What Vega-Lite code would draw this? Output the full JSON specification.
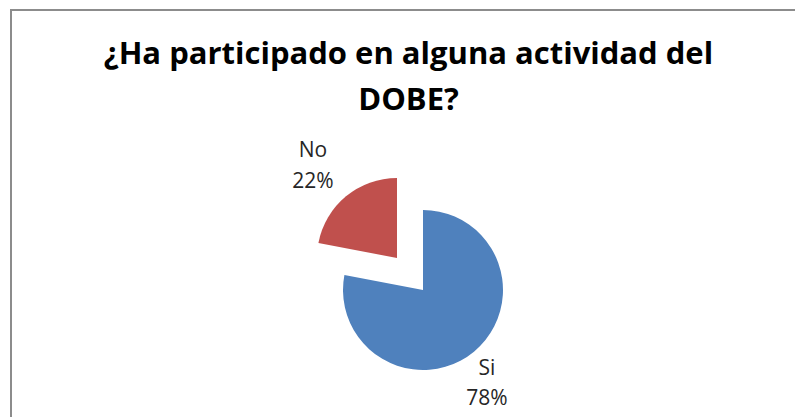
{
  "$schema": "https://vega.github.io/schema/vega-lite/v6.json",
  "width": 795,
  "height": 417,
  "autosize": {"type": "fit", "contains": "padding"},
  "padding": {"left": 11, "top": 10, "right": -40, "bottom": -153},
  "background": "white",
  "view": {"stroke": "#8c8c8c", "strokeWidth": 2},
  "title": {
    "text": ["¿Ha participado en alguna actividad del", "DOBE?"],
    "font": "Open Sans",
    "fontSize": 31,
    "fontWeight": "bold",
    "color": "#000000",
    "lineHeight": 46,
    "anchor": "middle",
    "frame": "group",
    "orient": "top",
    "baseline": "alphabetic",
    "offset": -131,
    "dx": -14.5
  },
  "data": {
    "values": [
      {"respuesta": "Si", "porcentaje": 0.78},
      {"respuesta": "No", "porcentaje": 0.22}
    ]
  },
  "encoding": {
    "theta": {"field": "porcentaje", "type": "quantitative", "stack": true},
    "order": {"field": "porcentaje", "type": "quantitative", "sort": "descending"},
    "color": {
      "field": "respuesta",
      "type": "nominal",
      "scale": {"domain": ["Si", "No"], "range": ["#4F81BD", "#C0504D"]},
      "legend": null
    }
  },
  "layer": [
    {
      "mark": {"type": "arc", "radius": 80},
      "encoding": {
        "opacity": {"condition": {"test": "datum.respuesta === 'Si'", "value": 1}, "value": 0}
      }
    },
    {
      "mark": {"type": "arc", "radius": 80, "xOffset": -26, "yOffset": -32},
      "encoding": {
        "opacity": {"condition": {"test": "datum.respuesta === 'No'", "value": 1}, "value": 0}
      }
    },
    {
      "mark": {"type": "text", "radius": 112, "font": "Open Sans", "fontSize": 21, "baseline": "alphabetic", "align": "center", "xOffset": -7.5, "yOffset": -1.2},
      "encoding": {
        "text": {"field": "respuesta", "type": "nominal"},
        "color": {"value": "#262626"},
        "detail": {"field": "respuesta", "type": "nominal"},
        "opacity": {"condition": {"test": "datum.respuesta === 'Si'", "value": 1}, "value": 0}
      }
    },
    {
      "mark": {"type": "text", "radius": 112, "font": "Open Sans", "fontSize": 21, "baseline": "alphabetic", "align": "center", "xOffset": -7.5, "yOffset": 29},
      "encoding": {
        "text": {"field": "porcentaje", "type": "quantitative", "format": ".0%"},
        "color": {"value": "#262626"},
        "detail": {"field": "respuesta", "type": "nominal"},
        "opacity": {"condition": {"test": "datum.respuesta === 'Si'", "value": 1}, "value": 0}
      }
    },
    {
      "mark": {"type": "text", "radius": 125, "font": "Open Sans", "fontSize": 21, "baseline": "alphabetic", "align": "center", "xOffset": -30.4, "yOffset": -36.3},
      "encoding": {
        "text": {"field": "respuesta", "type": "nominal"},
        "color": {"value": "#262626"},
        "detail": {"field": "respuesta", "type": "nominal"},
        "opacity": {"condition": {"test": "datum.respuesta === 'No'", "value": 1}, "value": 0}
      }
    },
    {
      "mark": {"type": "text", "radius": 125, "font": "Open Sans", "fontSize": 21, "baseline": "alphabetic", "align": "center", "xOffset": -30.4, "yOffset": -5.3},
      "encoding": {
        "text": {"field": "porcentaje", "type": "quantitative", "format": ".0%"},
        "color": {"value": "#262626"},
        "detail": {"field": "respuesta", "type": "nominal"},
        "opacity": {"condition": {"test": "datum.respuesta === 'No'", "value": 1}, "value": 0}
      }
    }
  ]
}
